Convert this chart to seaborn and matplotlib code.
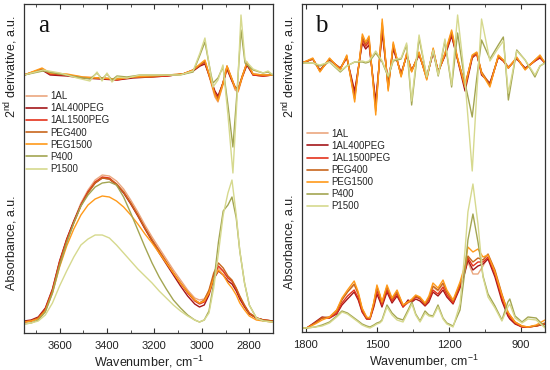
import numpy as np
import pandas as pd
import matplotlib
matplotlib.use("Agg")
import matplotlib.pyplot as plt
import seaborn as sns
from matplotlib.ticker import MultipleLocator

# sample names and colours
samples = ["1AL", "1AL400PEG", "1AL1500PEG", "PEG400", "PEG1500", "P400", "P1500"]
colors = ["#EBA77F", "#A4161A", "#E4321B", "#C8661C", "#FF9A1A", "#A3A552", "#D6D98E"]

# ---- panel a : 3750-2700 cm-1 ----
wn_a = [3750, 3720, 3690, 3660, 3630, 3600, 3570, 3540, 3510, 3480, 3450, 3420, 3390, 3360,
        3330, 3300, 3270, 3240, 3210, 3180, 3150, 3120, 3090, 3060, 3030, 3010, 2990, 2970,
        2950, 2930, 2910, 2890, 2873, 2855, 2840, 2820, 2800, 2770, 2740, 2700]
abs_a = {
    "1AL":        [11, 12, 15, 23, 42, 70, 93, 112, 130, 143, 153, 158, 157, 152, 144, 133, 121, 108, 96, 85,
                   74, 63, 53, 43, 35, 33, 34, 42, 57, 65, 61, 55, 51, 44, 35, 27, 20, 15, 13, 12],
    "1AL400PEG":  [12, 13, 16, 25, 44, 72, 94, 112, 128, 141, 150, 155, 154, 148, 140, 129, 117, 104, 92, 80,
                   69, 58, 47, 37, 29, 26, 28, 38, 54, 62, 58, 52, 49, 42, 34, 26, 19, 15, 13, 12],
    "1AL1500PEG": [11, 12, 15, 24, 43, 71, 93, 111, 128, 141, 151, 156, 155, 149, 141, 130, 118, 105, 93, 82,
                   71, 60, 50, 40, 32, 29, 31, 40, 57, 67, 62, 55, 52, 44, 36, 27, 20, 15, 13, 12],
    "PEG400":     [11, 12, 15, 23, 42, 70, 92, 110, 127, 140, 150, 155, 154, 149, 141, 130, 118, 105, 93, 82,
                   71, 60, 50, 41, 33, 30, 33, 43, 60, 70, 65, 57, 53, 45, 37, 28, 20, 15, 13, 12],
    "PEG1500":    [11, 12, 14, 22, 40, 66, 87, 104, 118, 128, 134, 137, 136, 132, 126, 118, 109, 99, 90, 80,
                   70, 60, 50, 41, 33, 30, 32, 40, 55, 63, 58, 50, 45, 38, 30, 23, 17, 13, 12, 11],
    "P400":       [9, 10, 13, 21, 40, 67, 90, 110, 127, 138, 146, 150, 151, 148, 136, 120, 103, 86, 70, 56,
                   44, 33, 25, 18, 13, 11, 13, 22, 50, 91, 122, 128, 136, 115, 82, 50, 28, 15, 12, 11],
    "P1500":      [9, 10, 12, 18, 30, 47, 62, 76, 88, 94, 98, 98, 95, 88, 80, 72, 64, 57, 50, 42,
                   35, 28, 22, 17, 13, 11, 13, 20, 45, 80, 118, 140, 153, 118, 82, 50, 28, 15, 12, 11],
}

wn_a_der_r = [3750, 3674, 3640, 3569, 3501, 3430, 3358, 3290, 3219, 3147, 3080, 3037, 3008, 2987,
              2966, 2945, 2932, 2911, 2894, 2873, 2860, 2847, 2830, 2810, 2784, 2742, 2700]
der_a_r = {
    "1AL":        [0, 5, 1, 0, -2, -3, -4, -2, -1, -1, 1, 4, 9, 12, -4, -22, -27, -10, 6, -6, -15, -17, -3, 10, 0, -1, 0],
    "1AL400PEG":  [0, 5, 0, -1, -3, -4, -5, -3, -2, -1, 1, 4, 9, 11, -2, -16, -21, -8, 6, -6, -12, -14, -2, 10, 0, -1, 0],
    "1AL1500PEG": [0, 6, 1, 0, -3, -3, -5, -2, -2, -1, 1, 5, 10, 13, -3, -18, -23, -8, 8, -5, -13, -15, -2, 12, 0, -1, 0],
    "PEG400":     [0, 6, 2, 0, -3, -3, -4, -2, -2, 0, 1, 5, 10, 14, -3, -19, -24, -8, 9, -4, -12, -14, -1, 12, 1, 0, 0],
    "PEG1500":    [0, 7, 2, 1, -2, -3, -4, -2, -1, 0, 1, 5, 11, 15, -2, -20, -26, -9, 9, -4, -13, -16, -2, 13, 1, 0, 0],
}
wn_a_der_p = [3750, 3670, 3598, 3526, 3472, 3442, 3421, 3400, 3379, 3358, 3316, 3261, 3177, 3092, 3037,
              3008, 2987, 2961, 2953, 2932, 2911, 2890, 2869, 2852, 2835, 2818, 2784, 2742, 2721, 2700]
der_a_p = {
    "P400":  [0, 4, 1, -2, -4, 2, -4, 1, -5, -1, -2, 0, 0, 0, 3, 20, 33, 0, -8, -3, 8, -30, -72, -18, 45, 12, 5, 2, 3, 0],
    "P1500": [0, 5, 2, -3, -6, 3, -6, 2, -7, -2, -3, 0, 0, 0, 4, 22, 37, -2, -12, -5, 10, -40, -98, -25, 60, 15, 6, 2, 4, 0],
}

# ---- panel b : 1815-800 cm-1 ----
wn_b = [1815, 1795, 1760, 1731, 1700, 1670, 1648, 1625, 1597, 1580, 1564, 1545, 1531, 1515, 1502, 1490,
        1481, 1460, 1439, 1418, 1393, 1372, 1356, 1340, 1322, 1301, 1285, 1268, 1247, 1226, 1210, 1184,
        1155, 1134, 1122, 1101, 1080, 1059, 1038, 1009, 980, 955, 947, 925, 896, 871, 837, 800]
abs_b = {
    "1AL":        [4, 4, 9, 14, 15, 22, 33, 40, 47, 38, 23, 14, 14, 28, 44, 36, 29, 45, 32, 40, 26, 29, 32, 36,
                   34, 28, 34, 45, 41, 48, 39, 30, 48, 62, 70, 58, 58, 66, 75, 60, 36, 19, 16, 9, 5, 5, 6, 8],
    "1AL400PEG":  [4, 4, 10, 15, 14, 18, 27, 33, 40, 32, 20, 13, 13, 25, 38, 31, 25, 40, 29, 36, 25, 32, 30, 33,
                   31, 26, 30, 40, 36, 42, 35, 28, 44, 60, 72, 62, 66, 68, 73, 55, 31, 16, 13, 8, 5, 5, 6, 8],
    "1AL1500PEG": [4, 4, 9, 14, 14, 19, 29, 36, 42, 34, 21, 13, 13, 27, 41, 34, 27, 42, 31, 38, 25, 30, 31, 35,
                   33, 27, 32, 42, 38, 45, 37, 29, 46, 62, 74, 66, 70, 70, 75, 58, 34, 18, 15, 9, 5, 5, 6, 8],
    "PEG400":     [4, 4, 9, 14, 15, 21, 32, 40, 48, 38, 23, 14, 14, 29, 45, 37, 29, 45, 33, 40, 27, 30, 32, 36,
                   34, 28, 34, 46, 42, 49, 40, 31, 48, 64, 76, 70, 74, 72, 78, 62, 38, 20, 17, 10, 6, 5, 6, 9],
    "PEG1500":    [4, 4, 8, 12, 15, 22, 34, 42, 51, 40, 24, 15, 14, 30, 47, 38, 30, 47, 34, 42, 27, 30, 33, 37,
                   35, 29, 36, 49, 44, 52, 42, 32, 50, 67, 85, 80, 83, 75, 77, 60, 37, 20, 17, 10, 6, 5, 7, 12],
    "P400":       [4, 4, 5, 7, 10, 16, 21, 19, 14, 11, 8, 6, 5, 7, 9, 10, 12, 27, 19, 14, 12, 22, 30, 18,
                   11, 21, 17, 16, 27, 14, 9, 6, 22, 62, 92, 118, 90, 56, 38, 26, 12, 30, 33, 16, 10, 15, 14, 5],
    "P1500":      [4, 4, 5, 6, 9, 15, 20, 18, 13, 10, 7, 5, 4, 6, 8, 9, 11, 25, 17, 12, 10, 20, 28, 17,
                   10, 19, 16, 15, 25, 13, 8, 5, 28, 82, 120, 148, 108, 55, 35, 24, 11, 25, 28, 14, 9, 13, 12, 4],
}

wn_b_der = [1815, 1770, 1740, 1700, 1655, 1628, 1595, 1563, 1549, 1535, 1507, 1480, 1455, 1434, 1401, 1378,
            1357, 1326, 1294, 1267, 1246, 1218, 1190, 1165, 1134, 1104, 1085, 1065, 1030, 995, 974, 953,
            918, 883, 842, 821, 800]
der_b = {
    "1AL":        [0, 4, -7, 4, -6, 6, -32, 23, 16, 21, -42, 35, -24, 17, -12, 8, -8, 9, -15, 12, -9, 8, 28,
                   4, -22, 6, 8, -9, -21, 6, 2, -5, 5, -6, 2, 6, 0],
    "1AL400PEG":  [0, 4, -7, 3, -5, 5, -28, 20, 14, 18, -38, 30, -21, 14, -10, 7, -7, 8, -13, 10, -8, 7, 27,
                   3, -28, 5, 10, -12, -20, 6, 2, -4, 4, -5, 2, 5, 0],
    "1AL1500PEG": [0, 4, -8, 4, -6, 6, -33, 24, 17, 22, -44, 36, -24, 17, -12, 8, -8, 9, -15, 12, -9, 8, 29,
                   4, -24, 6, 9, -10, -22, 6, 2, -5, 5, -6, 2, 6, 0],
    "PEG400":     [0, 4, -8, 4, -6, 7, -36, 26, 19, 25, -48, 40, -26, 19, -13, 9, -8, 10, -16, 14, -9, 9, 31,
                   4, -22, 7, 10, -9, -22, 7, 3, -5, 5, -6, 3, 7, 0],
    "PEG1500":    [0, 5, -9, 5, -7, 8, -39, 29, 21, 27, -52, 44, -28, 21, -14, 10, -9, 11, -17, 15, -10, 10, 33,
                   5, -24, 8, 11, -10, -24, 8, 3, -5, 6, -7, 3, 8, 0],
    "P400":       [0, 0, -3, 1, -9, -3, 1, 1, 0, 1, 10, 1, -14, 2, 4, 18, -42, 25, -14, 12, -13, 22, -24,
                   30, -20, -54, -15, 23, 4, 18, 26, -37, 13, 3, -14, -3, 0],
    "P1500":      [0, 0, -2, 1, -8, -3, 1, 2, 1, 2, 12, 2, -13, 3, 5, 20, -38, 28, -14, 13, -12, 24, -22,
                   48, -18, -108, -30, 44, 2, 15, 22, -30, 12, 3, -12, -3, 0],
}


def stack(wn, series, part, offset=0):
    frames = []
    for name, vals in series.items():
        frames.append(pd.DataFrame({"wn": wn, "value": np.array(vals) + offset,
                                    "sample": name, "part": part}))
    return frames


# derivative traces sit above the absorbance traces
df_a = pd.concat(stack(wn_a, abs_a, "abs") + stack(wn_a_der_r, der_a_r, "der", 258)
                 + stack(wn_a_der_p, der_a_p, "der", 258), ignore_index=True)
df_b = pd.concat(stack(wn_b, abs_b, "abs") + stack(wn_b_der, der_b, "der", 269), ignore_index=True)

sns.set_style("ticks")
plt.rcParams["font.family"] = ["Liberation Sans", "DejaVu Sans"]
plt.rcParams["mathtext.fontset"] = "custom"
plt.rcParams["mathtext.rm"] = "Liberation Sans"
plt.rcParams["lines.solid_joinstyle"] = "round"

fig = plt.figure(figsize=(5.5, 3.7), dpi=100)
ax_a = fig.add_axes([24 / 550, 37 / 370, 249 / 550, 329 / 370])
ax_b = fig.add_axes([302 / 550, 38 / 370, 243 / 550, 328 / 370])

panels = [
    (ax_a, df_a, "a", (3750, 2700), 200, 100, 329, (0.008, 0.735)),
    (ax_b, df_b, "b", (1815, 800), 300, 150, 328, (0.02, 0.62)),
]

for ax, df, letter, xlim, major, minor, ytop, leg_pos in panels:
    sns.lineplot(data=df, x="wn", y="value", hue="sample", units="part", estimator=None,
                 hue_order=samples, palette=colors, linewidth=1.0, ax=ax)
    ax.set_xlim(*xlim)
    ax.set_ylim(0, ytop)
    ax.xaxis.set_major_locator(MultipleLocator(major))
    ax.xaxis.set_minor_locator(MultipleLocator(minor))
    ax.set_yticks([])
    ax.tick_params(axis="x", which="both", direction="in", top=True, labelsize=8,
                   colors="#333333", labelcolor="#222222")
    ax.tick_params(axis="x", which="major", length=3.5, pad=6)
    ax.tick_params(axis="x", which="minor", length=2)
    for sp in ax.spines.values():
        sp.set_visible(True)
        sp.set_color("#333333")
        sp.set_linewidth(0.9)
    ax.set_xlabel("Wavenumber, cm$^{-1}$", fontsize=9, color="#222222", labelpad=2)
    ax.set_ylabel("")
    ax.text(-0.052, 0.81, "2$^{\\mathrm{nd}}$ derivative, a.u.",
            transform=ax.transAxes, rotation=90, ha="center", va="center", fontsize=9, color="#222222")
    ax.text(-0.052, 0.275, "Absorbance, a.u.", transform=ax.transAxes, rotation=90,
            ha="center", va="center", fontsize=9, color="#222222")
    ax.text(0.055, 0.915, letter, transform=ax.transAxes, fontsize=18,
            family=["Liberation Serif", "DejaVu Serif"], color="#111111")
    sns.move_legend(ax, "upper left", bbox_to_anchor=leg_pos, frameon=False, title=None,
                    fontsize=7, handlelength=2.2, handletextpad=0.3, labelspacing=0.22,
                    borderpad=0, borderaxespad=0)
    for line in ax.get_legend().get_lines():
        line.set_linewidth(1.2)

fig.savefig("out.png", dpi=100)
